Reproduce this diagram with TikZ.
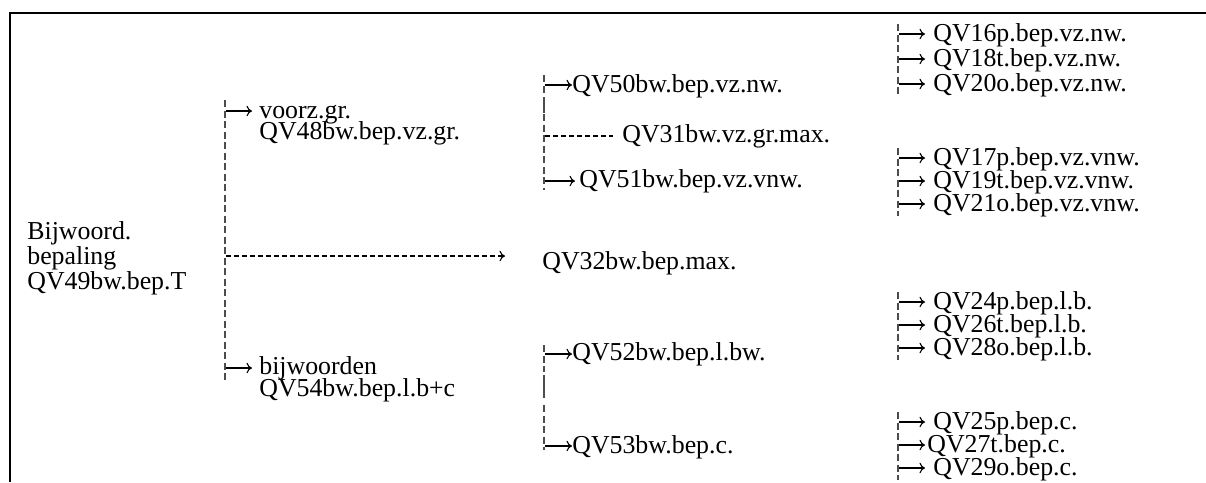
\documentclass[tikz,border=0pt]{standalone}
\usepackage{fontspec}
\setmainfont{Liberation Serif}
\usetikzlibrary{arrows.meta}

\tikzset{
  txt/.style={font=\fontsize{14.7}{12.8}\selectfont, inner sep=0pt, anchor=base west},
  bar/.style={gray!60!black, line width=0.25mm, dash pattern=on 1.4mm off 0.7mm},
  solidbar/.style={gray!60!black, line width=0.25mm},
  hdash/.style={line width=0.22mm, dash pattern=on 1mm off 0.6mm},
  arr/.style={->, line width=0.22mm}
}

\begin{document}
\begin{tikzpicture}[x=0.2mm,y=-0.2mm,>={To[length=1.1mm,width=2.1mm]}]
	\useasboundingbox (0,0) rectangle (1206,482);
	% frame
	\draw[line width=0.45mm] (10,482) -- (10,13) -- (1206,13);
	% root
	\node[txt,anchor=north west,align=left] (root) at (27,221) {Bijwoord.\\bepaling\\QV49bw.bep.T};
	% first split
	\coordinate (b1t) at (225,100);
	\coordinate (b1b) at (225,382);
	\draw[bar] (b1t) -- (b1b);
	\node[txt] (vzgr) at (259,118) {voorz.gr.};
	\node[txt] (qv48) at (259,139) {QV48bw.bep.vz.gr.};
	\node[txt] (bw) at (259,374) {bijwoorden};
	\node[txt] (qv54) at (259,396) {QV54bw.bep.l.b+c};
	\node[txt] (qv32) at (542,269) {QV32bw.bep.max.};
	\coordinate (a1) at (226,111);
	\coordinate (a2) at (226,368);
	\coordinate (m1) at (226,256);
	\draw[arr,shorten >=1.4mm] (a1) -- (a1 -| vzgr.west);
	\draw[arr,shorten >=1.4mm] (a2) -- (a2 -| bw.west);
	\draw[arr,hdash,shorten >=7.4mm] (m1) -- (m1 -| qv32.west);
	% voorz.gr. branch
	\draw[bar] (544,75) -- (544,96);
	\draw[solidbar] (544,97) -- (544,113);
	\draw[bar] (544,114) -- (544,190);
	\node[txt] (qv50) at (572,92) {QV50bw.bep.vz.nw.};
	\node[txt] (qv31) at (622,142) {QV31bw.vz.gr.max.};
	\node[txt] (qv51) at (579,187) {QV51bw.bep.vz.vnw.};
	\coordinate (a3) at (545,85);
	\coordinate (a4) at (545,136);
	\coordinate (a5) at (545,181);
	\draw[arr] (a3) -- (a3 -| qv50.west);
	\draw[hdash,shorten >=1.8mm] (a4) -- (a4 -| qv31.west);
	\draw[arr,shorten >=0.8mm] (a5) -- (a5 -| qv51.west);
	% bijwoorden branch
	\draw[bar] (544,345) -- (544,372);
	\draw[solidbar] (544,375) -- (544,398);
	\draw[bar] (544,405) -- (544,450);
	\node[txt] (qv52) at (572,360) {QV52bw.bep.l.bw.};
	\node[txt] (qv53) at (572,453) {QV53bw.bep.c.};
	\coordinate (a6) at (545,354);
	\coordinate (a7) at (545,446);
	\draw[arr] (a6) -- (a6 -| qv52.west);
	\draw[arr] (a7) -- (a7 -| qv53.west);
	% last column
	\foreach \t/\b in {24/96,148/216,292/360,412/480}
		\draw[bar] (898,\t) -- (898,\b);
	\foreach \n/\x/\y/\s/\t in {qv16/933/41/1.6mm/QV16p.bep.vz.nw., qv18/933/66/1.6mm/QV18t.bep.vz.nw.,
			qv20/933/91/1.6mm/QV20o.bep.vz.nw., qv17/933/165/1.6mm/QV17p.bep.vz.vnw.,
			qv19/933/188/1.6mm/QV19t.bep.vz.vnw., qv21/933/211/1.6mm/QV21o.bep.vz.vnw.,
			qv24/933/309/1.6mm/QV24p.bep.l.b., qv26/933/332/1.6mm/QV26t.bep.l.b.,
			qv28/933/355/1.6mm/QV28o.bep.l.b., qv25/933/429/1.6mm/QV25p.bep.c.,
			qv27/927/452/0.4mm/QV27t.bep.c., qv29/933/475/1.6mm/QV29o.bep.c.}{
		\node[txt] (\n) at (\x,\y) {\t};
		\coordinate (\n-a) at (899,\y-7);
		\draw[arr,shorten >=\s] (\n-a) -- (\n-a -| \n.west);
	}
\end{tikzpicture}
\end{document}
